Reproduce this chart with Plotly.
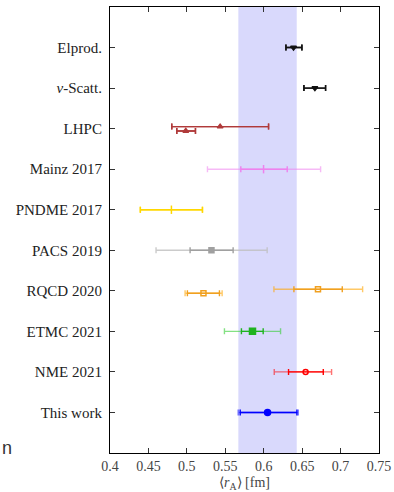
import plotly.graph_objects as go

# ---- data ----
row_labels = ["This work", "NME 2021", "ETMC 2021", "RQCD 2020", "PACS 2019",
              "PNDME 2017", "Mainz 2017", "LHPC", "<i>ν</i>-Scatt.", "Elprod."]
row_pos = [1, 2, 3, 4, 5, 6, 7, 8, 9, 10]

band_lo = 0.567
band_hi = 0.643

# each series: center, inner (lo, hi), outer (lo, hi)
this_work_c = [0.605]
this_work_in = [(0.5694, 0.6432)]
this_work_out = [(0.5668, 0.6449)]

nme_c = [0.6545]
nme_in = [(0.6323, 0.6775)]
nme_out = [(0.6137, 0.6883)]

etmc_c = [0.5854]
etmc_in = [(0.5710, 0.5993)]
etmc_out = [(0.5489, 0.6219)]

rqcd_c = [0.6706, 0.5216]
rqcd_in = [(0.6393, 0.7022), (0.5007, 0.5424)]
rqcd_out = [(0.6133, 0.7287), (0.4977, 0.5459)]

pacs_c = [0.532]
pacs_in = [(0.5042, 0.5602)]
pacs_out = [(0.4599, 0.6045)]

pndme_c = [0.4799]
pndme_in = [(0.4395, 0.5203)]
pndme_out = [(0.4395, 0.5203)]

mainz_c = [0.5998]
mainz_in = [(0.5702, 0.6306)]
mainz_out = [(0.5268, 0.6740)]

lhpc_c = [0.5433, 0.4986]
lhpc_in = [(0.4804, 0.6063), (0.4869, 0.5112)]
lhpc_out = [(0.4804, 0.6063), (0.4869, 0.5112)]

nu_c = [0.6666]
nu_in = [(0.6523, 0.6805)]
nu_out = [(0.6523, 0.6805)]

elprod_c = [0.6388]
elprod_in = [(0.6289, 0.6497)]
elprod_out = [(0.6289, 0.6497)]

# ---- styles ----
series = [
    # c, inner, outer, row, y offsets, color, light color, symbol, size
    (this_work_c, this_work_in, this_work_out, 1, [0.0], "#0000ff", "rgba(0,0,255,0.55)", "circle", 6),
    (nme_c, nme_in, nme_out, 2, [0.0], "#ff0000", "rgba(255,0,0,0.55)", "circle-open", 5),
    (etmc_c, etmc_in, etmc_out, 3, [0.0], "#1fb31f", "rgba(50,205,50,0.6)", "square", 6),
    (rqcd_c, rqcd_in, rqcd_out, 4, [0.04, -0.06], "#f0a020", "rgba(255,165,0,0.6)", "square-open", 5),
    (pacs_c, pacs_in, pacs_out, 5, [0.0], "#a0a0a0", "rgba(190,190,190,0.8)", "square", 5),
    (pndme_c, pndme_in, pndme_out, 6, [0.0], "#ffd700", "#ffd700", "line-ns-open", 6),
    (mainz_c, mainz_in, mainz_out, 7, [0.0], "#ee82ee", "rgba(238,130,238,0.55)", "line-ns-open", 6),
    (lhpc_c, lhpc_in, lhpc_out, 8, [0.05, -0.06], "#b03a3a", "#b03a3a", "triangle-up", 5),
    (nu_c, nu_in, nu_out, 9, [0.0], "#111111", "#111111", "triangle-down", 5),
    (elprod_c, elprod_in, elprod_out, 10, [0.0], "#111111", "#111111", "triangle-down", 5),
]

fig = go.Figure()

fig.add_shape(type="rect", xref="x", yref="paper", x0=band_lo, x1=band_hi,
              y0=0, y1=1, fillcolor="rgba(120,120,245,0.28)", line_width=0,
              layer="below")

for c, inn, out, row, offs, col, light, sym, size in series:
    ys = [row + o for o in offs]
    # outer error bar (lighter)
    fig.add_trace(go.Scatter(
        x=c, y=ys, mode="markers", marker=dict(size=1, opacity=0),
        error_x=dict(type="data", symmetric=False,
                     array=[h - v for v, (l, h) in zip(c, out)],
                     arrayminus=[v - l for v, (l, h) in zip(c, out)],
                     color=light, thickness=1.4, width=3),
        showlegend=False, hoverinfo="skip"))
    # inner error bar + marker
    fig.add_trace(go.Scatter(
        x=c, y=ys, mode="markers",
        marker=dict(symbol=sym, size=size, color=col,
                    line=dict(color=col, width=1.5)),
        error_x=dict(type="data", symmetric=False,
                     array=[h - v for v, (l, h) in zip(c, inn)],
                     arrayminus=[v - l for v, (l, h) in zip(c, inn)],
                     color=col, thickness=1.4, width=3),
        showlegend=False))

serif = "Liberation Serif"
fig.update_layout(
    width=394, height=492,
    margin=dict(l=110, r=15, t=7, b=39),
    plot_bgcolor="white", paper_bgcolor="white",
    font=dict(family=serif, size=15, color="#222"),
    xaxis=dict(range=[0.4, 0.75], dtick=0.05, tickformat="~g",
               ticks="inside", ticklen=5, tickcolor="#333",
               showline=True, linecolor="black", linewidth=1.2, mirror="ticks",
               showgrid=False, zeroline=False, automargin=False,
               tickfont=dict(family=serif, size=14, color="#444"),
               title=dict(text="⟨<i>r</i><sub>A</sub>⟩ [fm]", standoff=5,
                          font=dict(family=serif, size=14, color="#444"))),
    yaxis=dict(range=[0, 11], tickmode="array", tickvals=row_pos, ticktext=row_labels,
               ticks="inside", ticklen=5, tickcolor="#333",
               showline=True, linecolor="black", linewidth=1.2, mirror="ticks",
               showgrid=False, zeroline=False, ticklabelstandoff=4,
               tickfont=dict(family=serif, size=15, color="#222")),
)

fig.add_annotation(text="n", xref="paper", yref="paper", x=-0.41, y=0.012,
                   xanchor="left", yanchor="middle", showarrow=False,
                   font=dict(family="Liberation Sans", size=18, color="#333"))

fig.write_html("out.html")
